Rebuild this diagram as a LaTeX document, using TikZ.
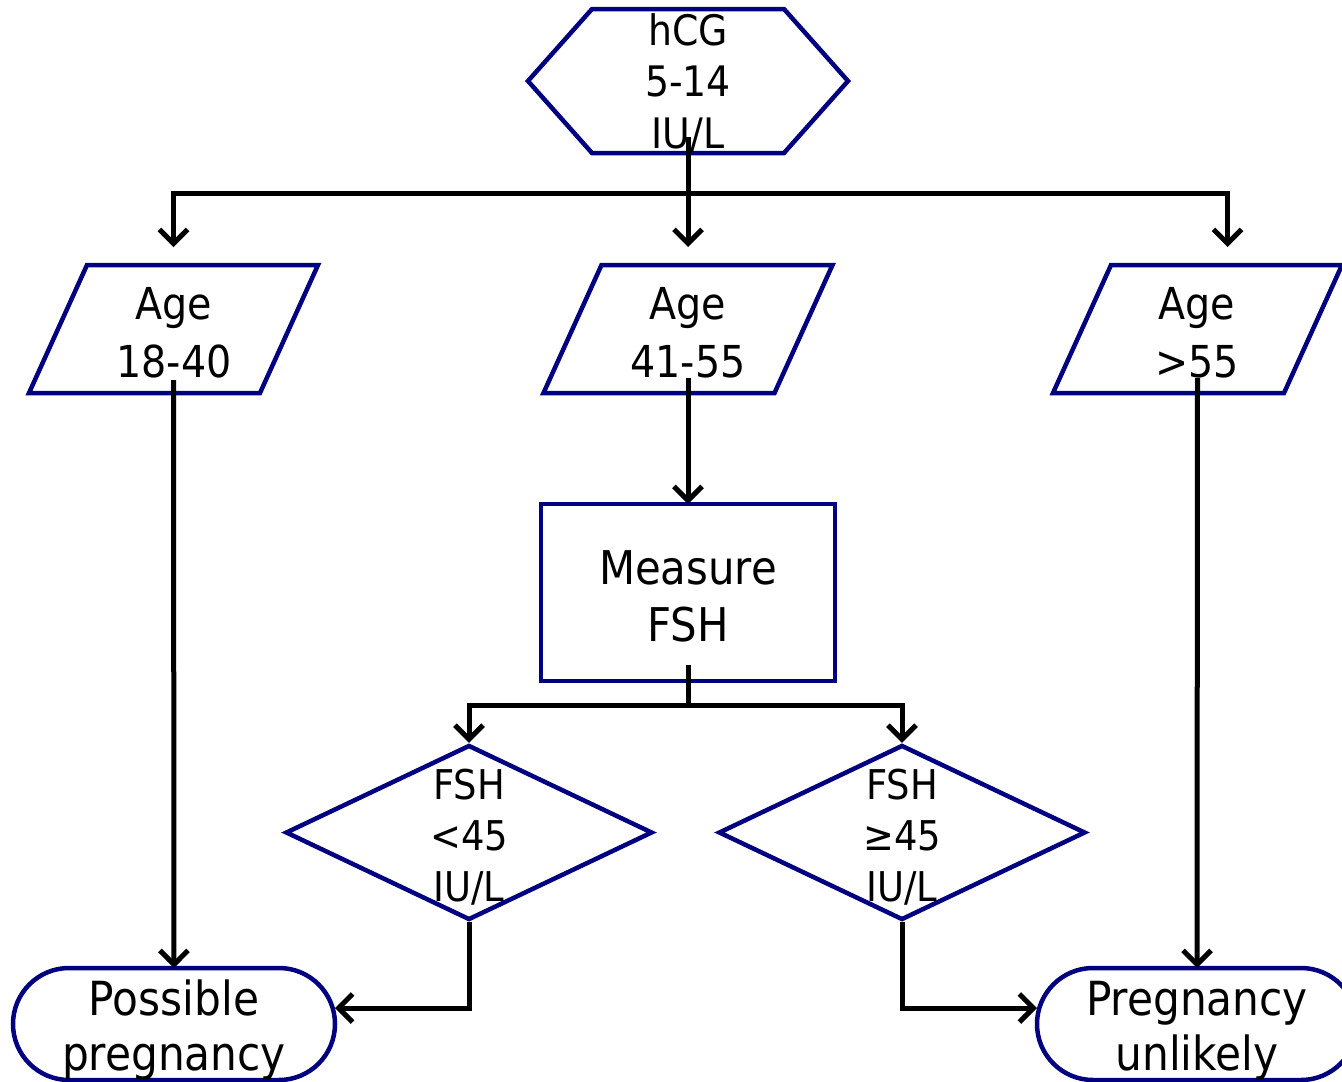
\documentclass[tikz,border=0pt]{standalone}
\usepackage{fontspec}
\setmainfont{DejaVu Sans Condensed}
\usetikzlibrary{arrows.meta,shapes.geometric,calc}
\definecolor{navyline}{RGB}{0,0,128}
\begin{document}
\begin{tikzpicture}[x=1pt,y=-1pt,
  outline/.style={draw=navyline, line width=4.5pt, line join=miter},
  box/.style={rectangle, inner sep=0pt, outer sep=0pt},
  txt/.style={align=center, inner sep=0pt, anchor=base, text=black},
  conn/.style={draw=black, line width=5pt},
  arr/.style={conn, -{Straight Barb[length=14pt,width=28pt]}},
  ]
\useasboundingbox (0,0) rectangle (1342,1082);

% hexagon: hCG test
\node[box, minimum width=320pt, minimum height=144pt] (hcg) at (688,81) {};
\draw[outline] (hcg.west) -- ([xshift=64pt]hcg.north west) -- ([xshift=-64pt]hcg.north east)
  -- (hcg.east) -- ([xshift=-64pt]hcg.south east) -- ([xshift=64pt]hcg.south west) -- cycle;

% age parallelograms
\node[box, minimum width=289pt, minimum height=128pt] (a1) at (173.5,329) {};
\node[box, minimum width=289pt, minimum height=128pt] (a2) at (688,329) {};
\node[box, minimum width=289pt, minimum height=128pt] (a3) at (1197.5,329) {};
\foreach \n in {a1,a2,a3}
  \draw[outline] ([xshift=58pt]\n.north west) -- (\n.north east)
    -- ([xshift=-58pt]\n.south east) -- (\n.south west) -- cycle;

% FSH measurement
\node[box, outline, minimum width=294pt, minimum height=177pt] (m) at (688,592.5) {};

% FSH decisions
\node[diamond, outline, inner sep=0pt, minimum width=367pt, minimum height=175pt] (d1) at (469,832.5) {};
\node[diamond, outline, inner sep=0pt, minimum width=367pt, minimum height=175pt] (d2) at (902,832.5) {};

% outcomes
\node[box, outline, rounded corners=56pt, minimum width=322pt, minimum height=112pt] (t1) at (174,1024) {};
\node[box, outline, rounded corners=56pt, minimum width=320pt, minimum height=112pt] (t2) at (1197,1024) {};

% labels (anchored at the baseline of the last line)
\node[txt, font=\fontsize{42}{51.5}\selectfont] (hcgt) at (688,148) {hCG\\5-14\\IU/L};
\node[txt, font=\fontsize{44}{58}\selectfont] (a1t) at (174,377) {Age\\18-40};
\node[txt, font=\fontsize{44}{58}\selectfont] (a2t) at (688,377) {Age\\41-55};
\node[txt, font=\fontsize{44}{58}\selectfont] (a3t) at (1197,377) {Age\\>55};
\node[txt, font=\fontsize{46.5}{57}\selectfont] (mt) at (688,641) {Measure\\FSH};
\node[txt, font=\fontsize{41}{51}\selectfont] (d1t) at (469,901) {FSH\\<45\\IU/L};
\node[txt, font=\fontsize{41}{51}\selectfont] (d2t) at (902,901) {FSH\\≥45\\IU/L};
\node[txt, font=\fontsize{47}{55}\selectfont] (t1t) at (174,1070) {Possible\\pregnancy};
\node[txt, font=\fontsize{47}{55}\selectfont] (t2t) at (1197,1070) {Pregnancy\\unlikely};

% connectors
\coordinate (s1) at (688,193);
\draw[conn] ([yshift=16pt]hcg.south) -- (s1);
\draw[arr] (s1) -| ([yshift=18pt]a1.north);
\draw[arr] (s1) -- ([yshift=18pt]a2.north);
\draw[arr] (s1) -| ([xshift=30pt,yshift=18pt]a3.north);

\draw[arr] ([yshift=15pt]a2.south) -- (m.north);
\draw[arr] ([yshift=13pt]a1.south) -- (t1.north);
\draw[arr] ([yshift=15pt]a3.south) -- (t2.north);

\coordinate (s2) at (688,705);
\draw[conn] ([yshift=16pt]m.south) -- (s2);
\draw[arr] (s2) -| (d1.north);
\draw[arr] (s2) -| (d2.north);

\draw[arr] (d1.south) |- ([yshift=16pt]t1.east);
\draw[arr] (d2.south) |- ([yshift=16pt]t2.west);
\end{tikzpicture}
\end{document}
